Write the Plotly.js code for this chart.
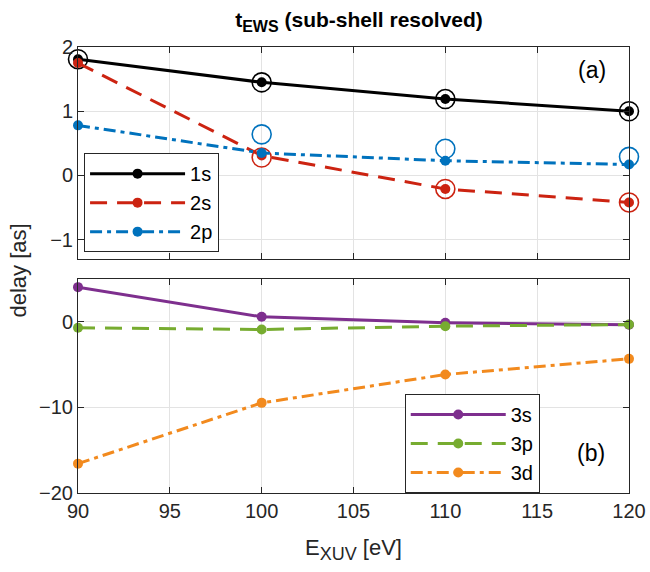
<!DOCTYPE html>
<html><head><meta charset="utf-8">
<script src="https://cdn.plot.ly/plotly-3.0.1.min.js"></script>
<style>body{margin:0;background:#fff}#plot{width:650px;height:572px}</style>
</head><body><div id="plot"></div>
<script>
const energy = [90, 100, 110, 120];
const d1s = [1.81, 1.45, 1.19, 1.00];
const d2s = [1.75, 0.31, -0.21, -0.42];
const d2p = [0.78, 0.35, 0.23, 0.17];
const ref1s = [1.81, 1.45, 1.19, 1.00];
const ref2sE = [100, 110, 120];
const ref2s = [0.28, -0.21, -0.42];
const ref2pE = [100, 110, 120];
const ref2p = [0.64, 0.415, 0.29];
const d3s = [4.05, 0.58, -0.12, -0.35];
const d3p = [-0.7, -0.9, -0.51, -0.32];
const d3d = [-16.57, -9.47, -6.16, -4.33];

const cBlack = '#000000', cRed = '#cc2311', cBlue = '#0072bd',
      cPurple = '#7e2f8e', cGreen = '#77ac30', cOrange = '#f28a1e';
const F = 'Liberation Sans, Arial, Helvetica, sans-serif';
const DASH = '17px,10px';
const DASHDOT = '12px,5px,4px,5px';

function line(x, y, name, color, dash, xa, ya, leg) {
  return {x, y, name, type: 'scatter', mode: 'lines+markers', xaxis: xa, yaxis: ya, cliponaxis: false,
    line: {color, width: 3, dash}, marker: {color, size: 10, symbol: 'circle'}, legend: leg};
}
function ring(x, y, color) {
  return {x, y, type: 'scatter', mode: 'markers', xaxis: 'x', yaxis: 'y', showlegend: false, cliponaxis: false,
    marker: {color, size: 19, symbol: 'circle-open', line: {color, width: 1.6}}};
}
const traces = [
  ring(energy, ref1s, cBlack),
  ring(ref2sE, ref2s, cRed),
  ring(ref2pE, ref2p, cBlue),
  line(energy, d1s, '1s', cBlack, 'solid', 'x', 'y', 'legend'),
  line(energy, d2s, '2s', cRed, DASH, 'x', 'y', 'legend'),
  line(energy, d2p, '2p', cBlue, DASHDOT, 'x', 'y', 'legend'),
  line(energy, d3s, '3s', cPurple, 'solid', 'x2', 'y2', 'legend2'),
  line(energy, d3p, '3p', cGreen, DASH, 'x2', 'y2', 'legend2'),
  line(energy, d3d, '3d', cOrange, DASHDOT, 'x2', 'y2', 'legend2'),
];
const axBase = {showline: true, linecolor: '#262626', linewidth: 1, mirror: 'ticks',
  ticks: 'inside', ticklen: 6, tickcolor: '#262626', showgrid: true, gridcolor: '#e3e3e3',
  gridwidth: 1, zeroline: false, tickfont: {family: F, size: 20, color: '#262626'}};
const legBase = {bgcolor: '#ffffff', bordercolor: '#262626', borderwidth: 1,
  font: {family: F, size: 20, color: '#000'}, xref: 'paper', yref: 'paper',
  xanchor: 'left', yanchor: 'top', itemwidth: 95, tracegroupgap: 0};
const layout = {
  width: 650, height: 572, paper_bgcolor: '#fff', plot_bgcolor: '#fff',
  margin: {l: 78, r: 21, t: 47, b: 79},
  title: {text: '<b>t<sub><span style="font-size:16px">EWS</span></sub> (sub-shell resolved)</b>',
    xref: 'paper', x: 0.51, xanchor: 'center',
    yref: 'container', y: 0.965, yanchor: 'middle',
    font: {family: F, size: 21, color: '#000'}},
  xaxis: Object.assign({}, axBase, {domain: [0, 1], range: [90, 120], dtick: 5, tick0: 90,
    showticklabels: false, anchor: 'y'}),
  yaxis: Object.assign({}, axBase, {domain: [0.5247, 1], range: [-1.3, 2], tickvals: [-1, 0, 1, 2], anchor: 'x'}),
  xaxis2: Object.assign({}, axBase, {domain: [0, 1], range: [90, 120], dtick: 5, tick0: 90, anchor: 'y2',
    title: {text: 'E<sub><span style="font-size:18px">XUV</span></sub> [eV]', font: {family: F, size: 22, color: '#262626'}, standoff: 18}}),
  yaxis2: Object.assign({}, axBase, {domain: [0, 0.4798], range: [-20, 5], tickvals: [-20, -10, 0], anchor: 'x2'}),
  legend: Object.assign({}, legBase, {x: 0.011, y: 0.762}),
  legend2: Object.assign({}, legBase, {x: 0.593, y: 0.222}),
  showlegend: true,
  annotations: [
    {text: '(a)', xref: 'paper', yref: 'paper', x: 0.932, y: 0.948, showarrow: false,
      xanchor: 'center', yanchor: 'middle', font: {family: F, size: 23, color: '#000'}},
    {text: '(b)', xref: 'paper', yref: 'paper', x: 0.931, y: 0.09, showarrow: false,
      xanchor: 'center', yanchor: 'middle', font: {family: F, size: 23, color: '#000'}},
    {text: 'delay [as]', xref: 'paper', yref: 'paper', x: -0.108, y: 0.5, textangle: -90,
      showarrow: false, xanchor: 'center', yanchor: 'middle', font: {family: F, size: 22, color: '#262626'}}
  ]
};
Plotly.newPlot('plot', traces, layout, {displayModeBar: false, staticPlot: true});
</script></body></html>
